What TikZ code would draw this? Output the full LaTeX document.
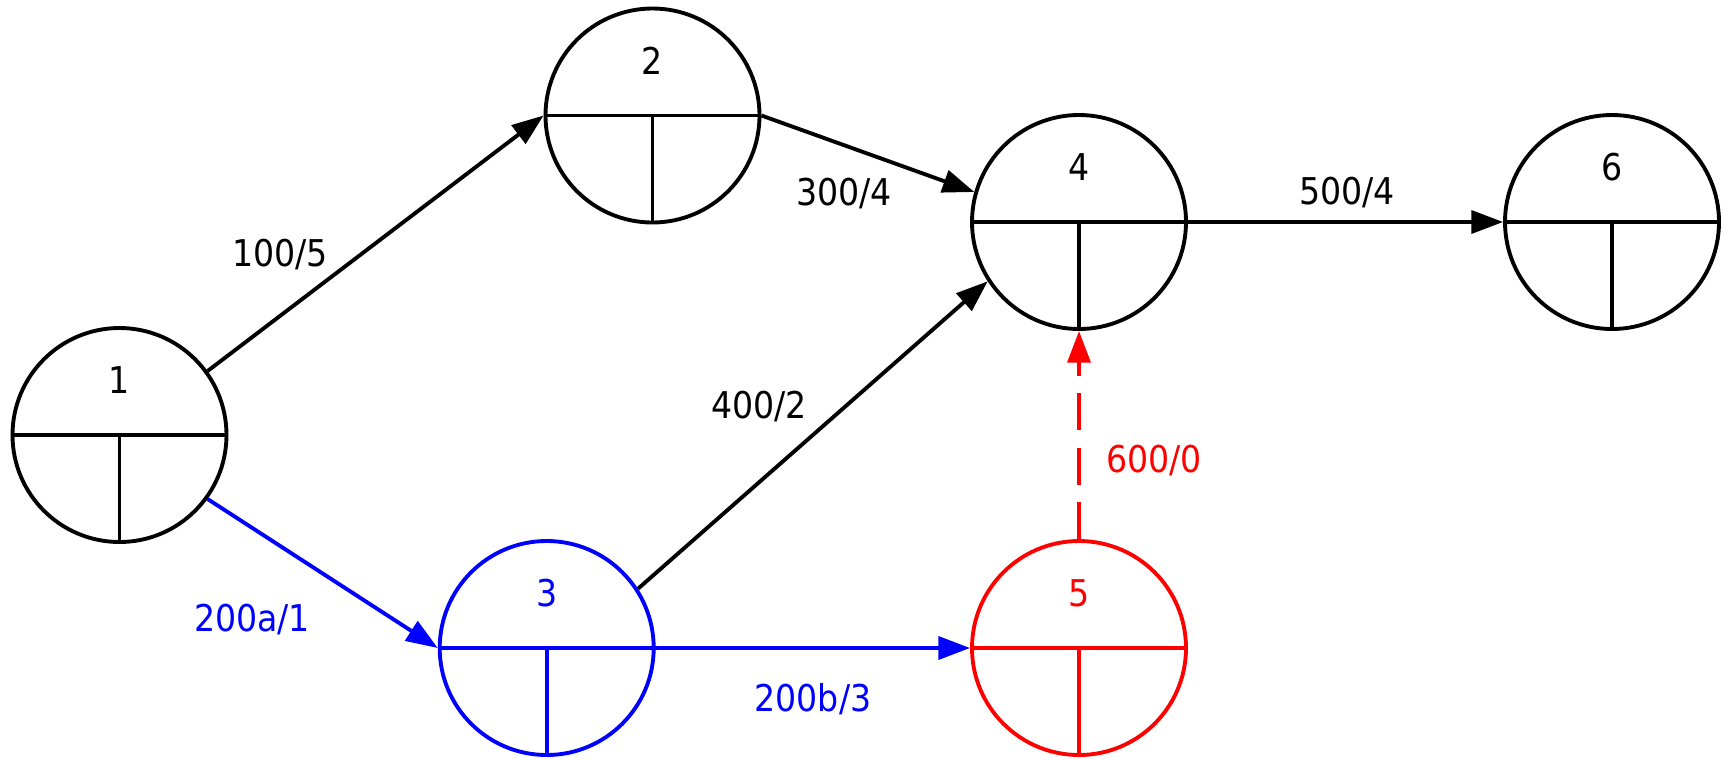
\documentclass[tikz,border=0pt]{standalone}
\usepackage{fontspec}
\setmainfont{DejaVu Sans Condensed}
\usetikzlibrary{arrows.meta}

\begin{document}
\begin{tikzpicture}[
    >={Triangle[length=9pt, width=6.5pt]},
    line width=1.1pt,
    event/.style={circle, draw, minimum size=2.14cm, inner sep=0pt},
    num/.style={font=\fontsize{10.5}{12}\selectfont},
    lbl/.style={font=\fontsize{10.5}{12}\selectfont}
]
    \useasboundingbox (0,0) rectangle (17.27,7.58);

    % События сети
    \node[event] (1) at (1.195, 3.23) {};
    \node[event] (2) at (6.525, 6.425) {};
    \node[event, blue] (3) at (5.467, 1.10) {};
    \node[event] (4) at (10.79, 5.36) {};
    \node[event, red] (5) at (10.79, 1.10) {};
    \node[event] (6) at (16.12, 5.36) {};

    % Сектора событий
    \foreach \e/\c in {1/black, 2/black, 3/blue, 4/black, 5/red, 6/black} {
        \draw[\c] (\e.west) -- (\e.east) (\e.center) -- (\e.south);
        \node[num, text=\c] (n\e) at ([yshift=5.5mm]\e.center) {\e};
    }

    % Работы
    \path[->] (1.36) edge (2.west);
    \path[->] (2.east) edge (4.164);
    \path[->] (3.33) edge (4.213);
    \path[->] (4.east) edge (6.west);
    \path[->, blue] (1.-36) edge (3.west);
    \path[->, blue] (3.east) edge (5.west);
    \path[->, red, dash pattern=on 10.5pt off 5pt] (5.north) edge (4.south);

    % Подписи работ
    \node[lbl] (l12) at (2.80, 5.03) {100/5};
    \node[lbl] (l24) at (8.44, 5.64) {300/4};
    \node[lbl] (l34) at (7.59, 3.51) {400/2};
    \node[lbl] (l46) at (13.47, 5.65) {500/4};
    \node[lbl, text=blue] (l13) at (2.52, 1.39) {200a/1};
    \node[lbl, text=blue] (l35) at (8.13, 0.59) {200b/3};
    \node[lbl, text=red] (l54) at (11.54, 2.97) {600/0};
\end{tikzpicture}
\end{document}
